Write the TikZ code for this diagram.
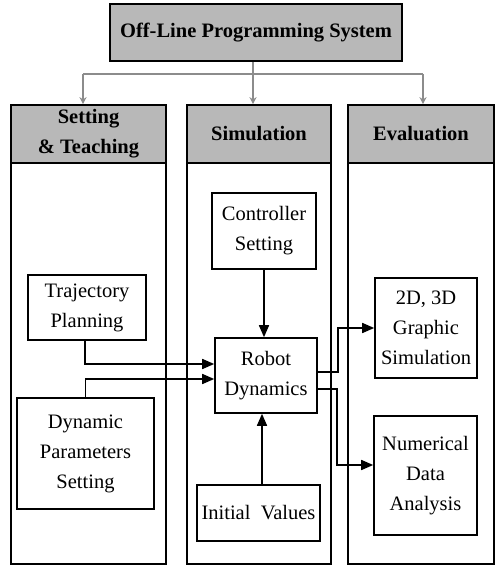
\documentclass[tikz,border=0pt]{standalone}
\usepackage{fontspec}
\setmainfont{Liberation Serif}
\usetikzlibrary{arrows.meta}
\begin{document}
\begin{tikzpicture}[x=1pt,y=-1pt,
  every node/.style={font=\fontsize{20.5}{30}\selectfont, align=center, inner sep=0pt},
  frame/.style={draw, line width=1.6pt},
  hdr/.style={frame, fill=black!28, font=\fontsize{20.5}{30}\selectfont\bfseries},
  col/.style={frame},
  box/.style={frame, fill=white},
  arr/.style={line width=1.6pt, -{Triangle[length=12pt,width=10pt]}},
  ln/.style={line width=1.6pt},
  garr/.style={line width=2.2pt, draw=black!45, -{Stealth[length=7pt,width=7pt]}},
  gln/.style={line width=2.2pt, draw=black!45}]
\useasboundingbox (0,0) rectangle (497,568);
\fill[white] (0,0) rectangle (497,568);
% title
\node[hdr, minimum width=292pt, minimum height=57pt] (top) at (256,32.5) {Off-Line Programming System};
% columns
\node[col, minimum width=155pt, minimum height=401pt] (c1) at (88.5,363.5) {};
\node[col, minimum width=144pt, minimum height=401pt] (c2) at (259,363.5) {};
\node[col, minimum width=146pt, minimum height=401pt] (c3) at (421,363.5) {};
\node[hdr, minimum width=155pt, minimum height=58pt] (h1) at (88.5,134) {Setting\\\& Teaching};
\node[hdr, minimum width=144pt, minimum height=58pt] (h2) at (259,134) {Simulation};
\node[hdr, minimum width=146pt, minimum height=58pt] (h3) at (421,134) {Evaluation};
% gray connectors
\coordinate (j0) at (253,74);
\coordinate (j1) at (83,74);
\coordinate (j3) at (423,74);
\draw[gln] (top.south -| j0) -- (j0);
\draw[gln] (j1) -- (j3);
\draw[garr] (j1) -- (j1 |- h1.north);
\draw[garr] (j0) -- (j0 |- h2.north);
\draw[garr] (j3) -- (j3 |- h3.north);
% inner boxes
\node[box, minimum width=118pt, minimum height=65pt] (traj) at (87,307.5) {Trajectory\\Planning};
\node[box, minimum width=137pt, minimum height=111pt] (dyn) at (85.5,453.5) {Dynamic\\Parameters\\Setting};
\node[box, minimum width=104pt, minimum height=76pt] (ctrl) at (264,231) {Controller\\Setting};
\node[box, minimum width=102pt, minimum height=75pt] (robot) at (266,375.5) {Robot\\Dynamics};
\node[box, minimum width=123pt, minimum height=56pt] (init) at (258.5,513) {Initial\ \ Values};
\node[box, minimum width=102pt, minimum height=100pt] (g2d) at (426,328) {2D,\ 3D\\Graphic\\Simulation};
\node[box, minimum width=103pt, minimum height=119pt] (num) at (425.5,475.5) {Numerical\\Data\\Analysis};
% arrows
\draw[arr] (ctrl.south) -- (ctrl.south |- robot.north);
\draw[arr] (init.north -| 262,0) -- (robot.south -| 262,0);
\draw[arr] (traj.south -| 85,0) |- (robot.west |- 0,364);
\draw[arr] (dyn.north) |- (robot.west |- 0,379);
\coordinate (b1) at (338,372);
\coordinate (b2) at (337,389);
\draw[arr] (robot.east |- b1) -- (b1) |- (g2d.west);
\draw[arr] (robot.east |- b2) -- (b2) |- (num.west |- 0,465);
\end{tikzpicture}
\end{document}
